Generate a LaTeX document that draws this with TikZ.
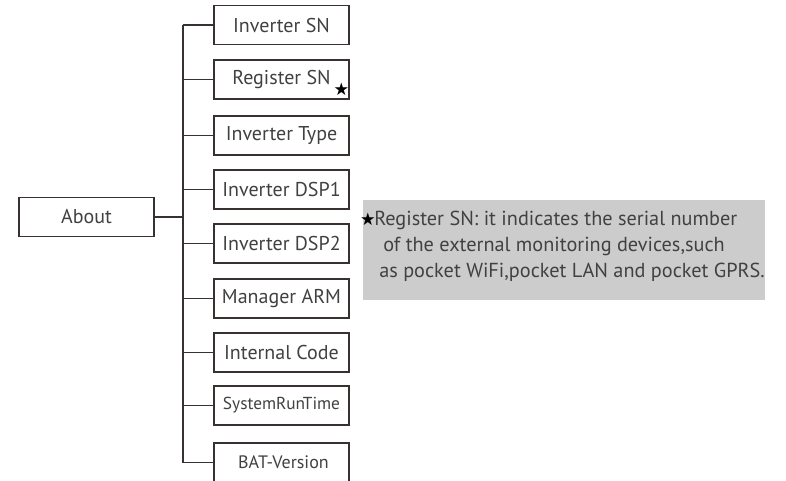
\documentclass[tikz,border=0pt]{standalone}
\usepackage{fontspec}
\setmainfont{PT Sans}
\newfontfamily\symfont{DejaVu Sans}
\definecolor{linec}{RGB}{55,50,48}
\definecolor{txtc}{RGB}{65,65,65}
\definecolor{notebg}{RGB}{204,204,204}
\begin{document}
\begin{tikzpicture}[x=0.75pt,y=-0.75pt,
  menubox/.style={draw=linec,line width=1.1pt,minimum width=101.25pt,minimum height=29.25pt,inner sep=0pt,text=txtc,font=\fontsize{15}{18}\selectfont},
  conn/.style={draw=linec,line width=1.1pt},
  starmark/.style={inner sep=0pt,font=\symfont\fontsize{13}{13}\selectfont,text=black},
  noteline/.style={anchor=base west,inner sep=0pt,text=txtc,font=\fontsize{15.2}{18}\selectfont}]
\useasboundingbox (0,0) rectangle (786,480);
\fill[white] (0,0) rectangle (786,480);
\node[menubox] (about) at (86.5,217) {About};
\node[menubox] (sn) at (281.5,25) {Inverter SN};
\node[menubox] (reg) at (281.5,79.5) {Register SN};
\node[menubox] (type) at (281.5,135.5) {Inverter Type};
\node[menubox] (dspa) at (281.5,189.5) {Inverter DSP1};
\node[menubox] (dspb) at (281.5,243.5) {Inverter DSP2};
\node[menubox] (arm) at (281.5,298.5) {Manager ARM};
\node[menubox] (code) at (281.5,352.5) {Internal Code};
\node[menubox,font=\fontsize{13}{16}\selectfont] (srt) at (281.5,405.5) {SystemRunTime};
\node[menubox,font=\fontsize{13.5}{16}\selectfont] (bat) at (281.5,462.5) {\hspace*{3pt}BAT-Version};
\node[starmark] (star) at (341.5,89) {★};
\coordinate (trunk) at (183,0);
\draw[conn] (sn.west -| trunk) -- (bat.west -| trunk);
\draw[conn] (about.east) -- (about.east -| trunk);
\foreach \b in {sn,reg,type,dspa,dspb,arm,code,srt,bat}
  \draw[conn] (\b.west) -- (\b.west -| trunk);
\node[fill=notebg,minimum width=301.5pt,minimum height=75pt,inner sep=0pt,anchor=north west] (note) at (363,200) {};
\node[starmark] (nstar) at (368,219) {★};
\node[noteline] (l1) at (374,225) {Register SN: it indicates the serial number};
\node[noteline] (l2) at (383,251) {of the external monitoring devices,such};
\node[noteline] (l3) at (379,277) {as pocket WiFi,pocket LAN and pocket GPRS.};
\end{tikzpicture}
\end{document}
